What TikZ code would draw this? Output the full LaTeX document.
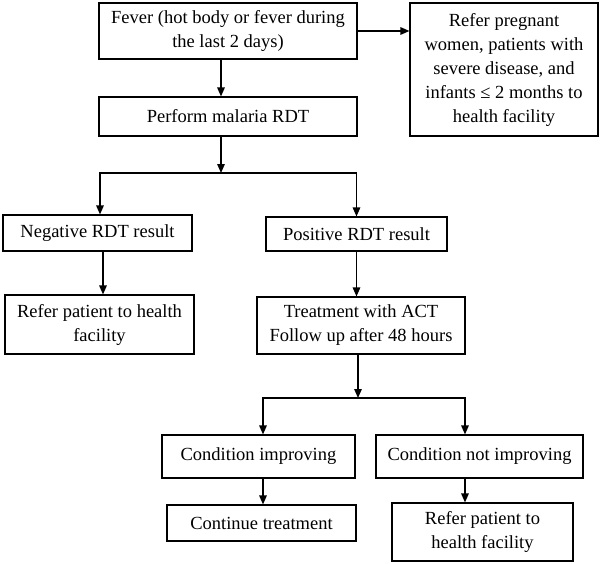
\documentclass[tikz,border=0pt]{standalone}
\usepackage{fontspec}
\setmainfont{Liberation Serif}
\newfontfamily\timesfont{Liberation Serif}
\usepackage{tikz}
\usetikzlibrary{arrows.meta}

\begin{document}
\begin{tikzpicture}[
  x=1pt,y=-1pt,
  box/.style={draw,line width=1.1pt,align=center,inner sep=0pt,
    font=\timesfont\fontsize{18.5}{24}\selectfont},
  arr/.style={line width=1.4pt,-{Triangle[length=9pt,width=7.5pt]}},
  ]
  \useasboundingbox (0,0) rectangle (600,563);
  \node (fever)        [box,minimum width=258pt,minimum height=56pt] at (228,31)
    {Fever (hot body or fever during\\the last 2 days)};
  \node (referfirst)   [box,minimum width=188pt,minimum height=133pt] at (504,69.5)
    {Refer pregnant\\women, patients with\\severe disease, and\\infants ≤ 2 months to\\health facility};
  \node (perform)      [box,minimum width=258pt,minimum height=39pt] at (228,116.5)
    {Perform malaria RDT};
  \node (negative)     [box,minimum width=189pt,minimum height=36pt] at (97.5,233)
    {Negative RDT result};
  \node (positive)     [box,minimum width=181pt,minimum height=34pt] at (356.5,234)
    {Positive RDT result};
  \node (referneg)     [box,minimum width=189pt,minimum height=59pt] at (99.5,324.5)
    {Refer patient to health\\facility};
  \node (treatment)    [box,minimum width=208pt,minimum height=57pt] at (361,325.5)
    {Treatment with ACT\\Follow up after 48 hours};
  \node (improving)    [box,minimum width=193pt,minimum height=43pt] at (258.5,456.5)
    {Condition improving};
  \node (notimproving) [box,minimum width=207pt,minimum height=43pt] at (479.5,456.5)
    {Condition not improving};
  \node (continue)     [box,minimum width=189pt,minimum height=36pt] at (261.5,523)
    {Continue treatment};
  \node (referpos)     [box,minimum width=181pt,minimum height=58pt] at (482.5,532)
    {Refer patient to\\health facility};
  \coordinate (splitrdt) at (221,173);
  \coordinate (splitact) at (358,398);
  % connectors
  \draw [arr] (fever.east) -- (fever.east -| referfirst.west);
  \draw [arr] ([xshift=-7pt]fever.south) -- ([xshift=-7pt]perform.north);
  \draw [arr] ([xshift=-7pt]perform.south) -- (splitrdt);
  \draw [arr] (splitrdt) -| ([xshift=2.5pt]negative.north);
  \draw [arr] (splitrdt) -| (positive.north);
  \draw [arr] ([xshift=5.5pt]negative.south) -- ([xshift=5.5pt]negative.south |- referneg.north);
  \draw [arr] (positive.south) -- (positive.south |- treatment.north);
  \draw [arr] (treatment.south -| splitact) -- (splitact);
  \draw [arr] (splitact) -| ([xshift=4.5pt]improving.north);
  \draw [arr] (splitact) -| ([xshift=-14.5pt]notimproving.north);
  \draw [arr] ([xshift=4.5pt]improving.south) -- ([xshift=4.5pt]improving.south |- continue.north);
  \draw [arr] ([xshift=-14.5pt]notimproving.south) -- ([xshift=-14.5pt]notimproving.south |- referpos.north);
\end{tikzpicture}
\end{document}
